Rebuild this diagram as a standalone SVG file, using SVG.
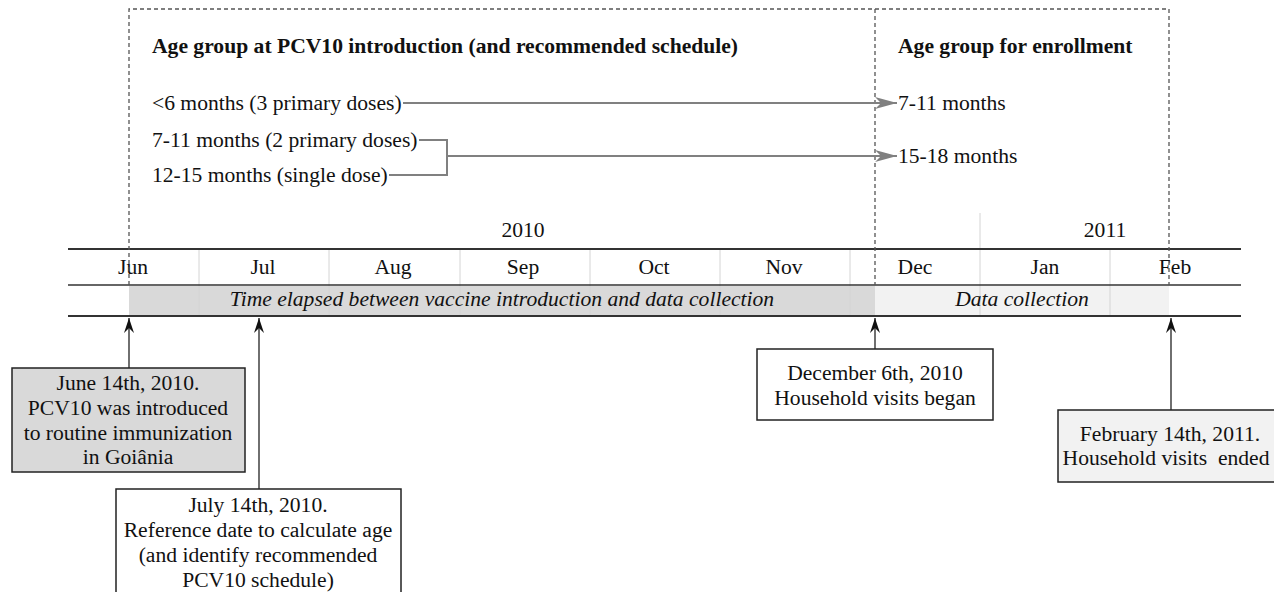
<svg xmlns="http://www.w3.org/2000/svg" width="1274" height="592" viewBox="0 0 1274 592">
<style>
text{font-family:"Liberation Serif","Times New Roman",serif;fill:#111;font-size:21.6px;}
.h{font-weight:bold;}
.m{text-anchor:middle;}
.i{font-style:italic;text-anchor:middle;}
.dash{fill:none;stroke:#555;stroke-width:1.3;stroke-dasharray:4,3;}
.sep{stroke:#d4d4d4;stroke-width:1;}
.tl{stroke:#333;stroke-width:2;}
.gc{fill:none;stroke:#808080;stroke-width:2;}
.bc{fill:none;stroke:#222;stroke-width:1.3;}
.box{stroke:#222;stroke-width:1.5;}
</style>
<defs>
<marker id="ga" markerWidth="24" markerHeight="12" refX="22" refY="6" orient="auto" markerUnits="userSpaceOnUse">
<path d="M0,0 L22,6 L0,12 L6,6 z" fill="#808080"/>
</marker>
<marker id="ba" markerWidth="18" markerHeight="12" refX="16" refY="6" orient="auto" markerUnits="userSpaceOnUse">
<path d="M1,1 L16,6 L1,11 L6,6 z" fill="#111"/>
</marker>
</defs>
<rect width="1274" height="592" fill="#fff"/>
<g id="bars">
<rect x="129" y="286" width="746" height="29" fill="#d9d9d9"/>
<rect x="875" y="286" width="294" height="29" fill="#f2f2f2"/>
</g>
<g id="timeline">
<line class="sep" x1="199" y1="249" x2="199" y2="316"/>
<line class="sep" x1="329" y1="249" x2="329" y2="316"/>
<line class="sep" x1="460" y1="249" x2="460" y2="316"/>
<line class="sep" x1="590" y1="249" x2="590" y2="316"/>
<line class="sep" x1="720" y1="249" x2="720" y2="316"/>
<line class="sep" x1="850" y1="249" x2="850" y2="316"/>
<line class="sep" x1="980" y1="249" x2="980" y2="316"/>
<line class="sep" x1="1110" y1="249" x2="1110" y2="316"/>
<line class="sep" x1="980" y1="213" x2="980" y2="249"/>
<line class="tl" x1="68" y1="249" x2="1241" y2="249"/>
<line class="tl" x1="68" y1="285" x2="1241" y2="285" style="stroke-width:1.6"/>
<line class="tl" x1="68" y1="316" x2="1241" y2="316"/>
<text class="m" x="523" y="237">2010</text>
<text class="m" x="1105" y="237">2011</text>
<text class="m" x="133" y="274">Jun</text>
<text class="m" x="263" y="274">Jul</text>
<text class="m" x="393" y="274">Aug</text>
<text class="m" x="523" y="274">Sep</text>
<text class="m" x="654" y="274">Oct</text>
<text class="m" x="784" y="274">Nov</text>
<text class="m" x="915" y="274">Dec</text>
<text class="m" x="1045" y="274">Jan</text>
<text class="m" x="1175" y="274">Feb</text>
<text class="i" x="502" y="306">Time elapsed between vaccine introduction and data collection</text>
<text class="i" x="1022" y="306">Data collection</text>
</g>
<g id="frames">
<path class="dash" d="M129,285 V9 H1169 V285"/>
<line class="dash" x1="875" y1="9" x2="875" y2="285"/>
</g>
<g id="age-intro">
<text class="h" x="152" y="53">Age group at PCV10 introduction (and recommended schedule)</text>
<text x="152" y="110">&lt;6 months (3 primary doses)</text>
<text x="152" y="147">7-11 months (2 primary doses)</text>
<text x="152" y="182">12-15 months (single dose)</text>
</g>
<g id="age-enroll">
<text class="h" x="898" y="53">Age group for enrollment</text>
<text x="898" y="110">7-11 months</text>
<text x="898" y="163">15-18 months</text>
</g>
<g id="connectors">
<line class="gc" x1="403" y1="103" x2="897" y2="103" marker-end="url(#ga)"/>
<path class="gc" d="M419,140 H447 V175 H389"/>
<line class="gc" x1="447" y1="156" x2="897" y2="156" marker-end="url(#ga)"/>
<line class="bc" x1="129" y1="368" x2="129" y2="318" marker-end="url(#ba)"/>
<line class="bc" x1="259" y1="489" x2="259" y2="318" marker-end="url(#ba)"/>
<line class="bc" x1="875" y1="349" x2="875" y2="318" marker-end="url(#ba)"/>
<line class="bc" x1="1171" y1="410" x2="1171" y2="318" marker-end="url(#ba)"/>
</g>
<g id="box-june">
<rect class="box" x="12" y="368" width="233" height="104" fill="#d9d9d9"/>
<text class="m" x="128" y="390">June 14th, 2010.</text>
<text class="m" x="128" y="415">PCV10 was introduced</text>
<text class="m" x="128" y="440">to routine immunization</text>
<text class="m" x="128" y="464">in Goiânia</text>
</g>
<g id="box-july">
<rect class="box" x="116" y="489" width="285" height="110" fill="#fff"/>
<text class="m" x="258" y="512">July 14th, 2010.</text>
<text class="m" x="258" y="537">Reference date to calculate age</text>
<text class="m" x="258" y="562">(and identify recommended</text>
<text class="m" x="258" y="587">PCV10 schedule)</text>
</g>
<g id="box-dec">
<rect class="box" x="757" y="349" width="236" height="71" fill="#fff"/>
<text class="m" x="875" y="380">December 6th, 2010</text>
<text class="m" x="875" y="405">Household visits began</text>
</g>
<g id="box-feb">
<rect class="box" x="1058" y="410" width="230" height="72" fill="#f2f2f2"/>
<text class="m" x="1170" y="441">February 14th, 2011.</text>
<text class="m" x="1166" y="465" xml:space="preserve">Household visits  ended</text>
</g>
</svg>
